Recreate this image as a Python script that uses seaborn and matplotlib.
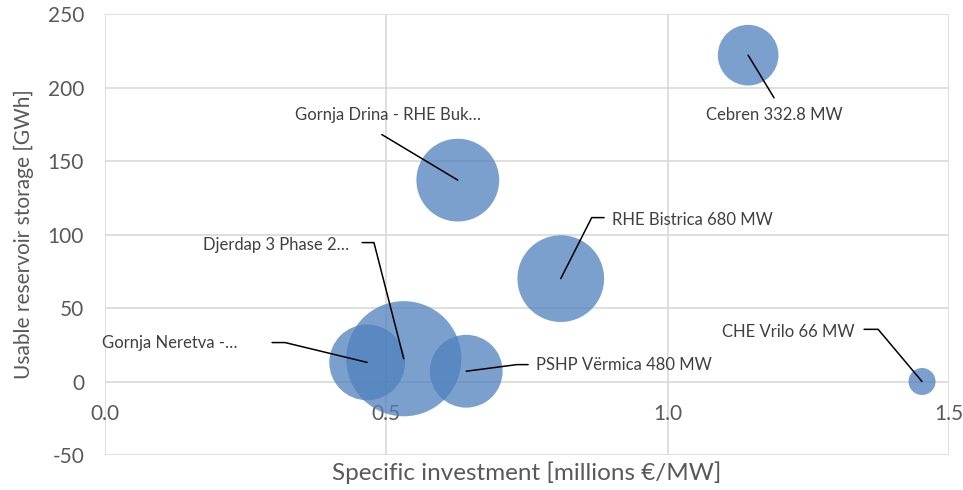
import matplotlib
matplotlib.use('Agg')
import matplotlib.pyplot as plt
import seaborn as sns
import pandas as pd

# data
names = ['Cebren 332.8 MW', 'Gornja Drina - RHE Buk\u2026', 'RHE Bistrica 680 MW',
         'Djerdap 3 Phase 2\u2026', 'Gornja Neretva -\u2026', 'PSHP V\u00ebrmica 480 MW',
         'CHE Vrilo 66 MW']
invest = [1.143, 0.627, 0.810, 0.531, 0.466, 0.642, 1.452]
storage = [222, 137, 70, 15.5, 13, 7, 0]
capacity = [332.8, 620, 680, 1200, 520, 480, 66]

# label placement (data coords): text anchor, alignment, leader path end
label_pos = [(1.189, 181), (0.503, 181), (0.901, 110), (0.434, 93),
             (0.236, 26.5), (0.766, 11), (1.333, 34)]
label_ha = ['center', 'center', 'left', 'right', 'right', 'left', 'right']
leader = [[(1.189, 193)],
          [(0.492, 168)],
          [(0.865, 111.5), (0.887, 111.5)],
          [(0.478, 94.5), (0.457, 94.5)],
          [(0.320, 26.5), (0.297, 26.5)],
          [(0.732, 11.5), (0.752, 11.5)],
          [(1.374, 35.5), (1.349, 35.5)]]

df = pd.DataFrame({'name': names, 'invest': invest, 'storage': storage, 'cap': capacity})

sns.set_style('white')
plt.rcParams['font.family'] = ['Lato', 'DejaVu Sans']
plt.rcParams['axes.unicode_minus'] = False

fig = plt.figure(figsize=(9.63, 4.90), dpi=100)
ax = fig.add_axes([0.109, 0.0714, 0.8765, 0.900])

scale = 5.73
sns.scatterplot(data=df, x='invest', y='storage', size='cap',
                sizes=(scale * min(capacity), scale * max(capacity)),
                size_norm=(min(capacity), max(capacity)),
                color='#4F81BD', alpha=0.75, linewidth=0, legend=False, ax=ax, zorder=3)

for i, n in enumerate(names):
    xs = [invest[i]] + [p[0] for p in leader[i]]
    ys = [storage[i]] + [p[1] for p in leader[i]]
    ax.plot(xs, ys, color='black', lw=1.1, zorder=4)
    ax.text(label_pos[i][0], label_pos[i][1], n, ha=label_ha[i], va='center',
            fontsize=12, color='#404040', zorder=5)

ax.set_xlim(0, 1.5)
ax.set_ylim(-50, 250)
ax.set_xticks([0.0, 0.5, 1.0, 1.5])
ax.set_xticklabels(['0.0', '0.5', '1.0', '1.5'])
ax.set_yticks(range(-50, 251, 50))
ax.grid(True, color='#D9D9D9', lw=1.2, zorder=0)
ax.set_axisbelow(True)
for s in ax.spines.values():
    s.set_visible(False)
ax.spines['bottom'].set_position(('data', 0))
ax.tick_params(axis='both', length=0, labelsize=15, labelcolor='#595959')
ax.tick_params(axis='y', pad=15)
ax.tick_params(axis='x', pad=16)

ax.set_xlabel('Specific investment [millions \u20ac/MW]', fontsize=17.5, color='#595959')
ax.xaxis.set_label_coords(0.5, -0.015)
ax.set_ylabel('Usable reservoir storage [GWh]', fontsize=15, color='#595959')
ax.yaxis.set_label_coords(-0.084, 0.5)

fig.savefig('out.png', dpi=100)
